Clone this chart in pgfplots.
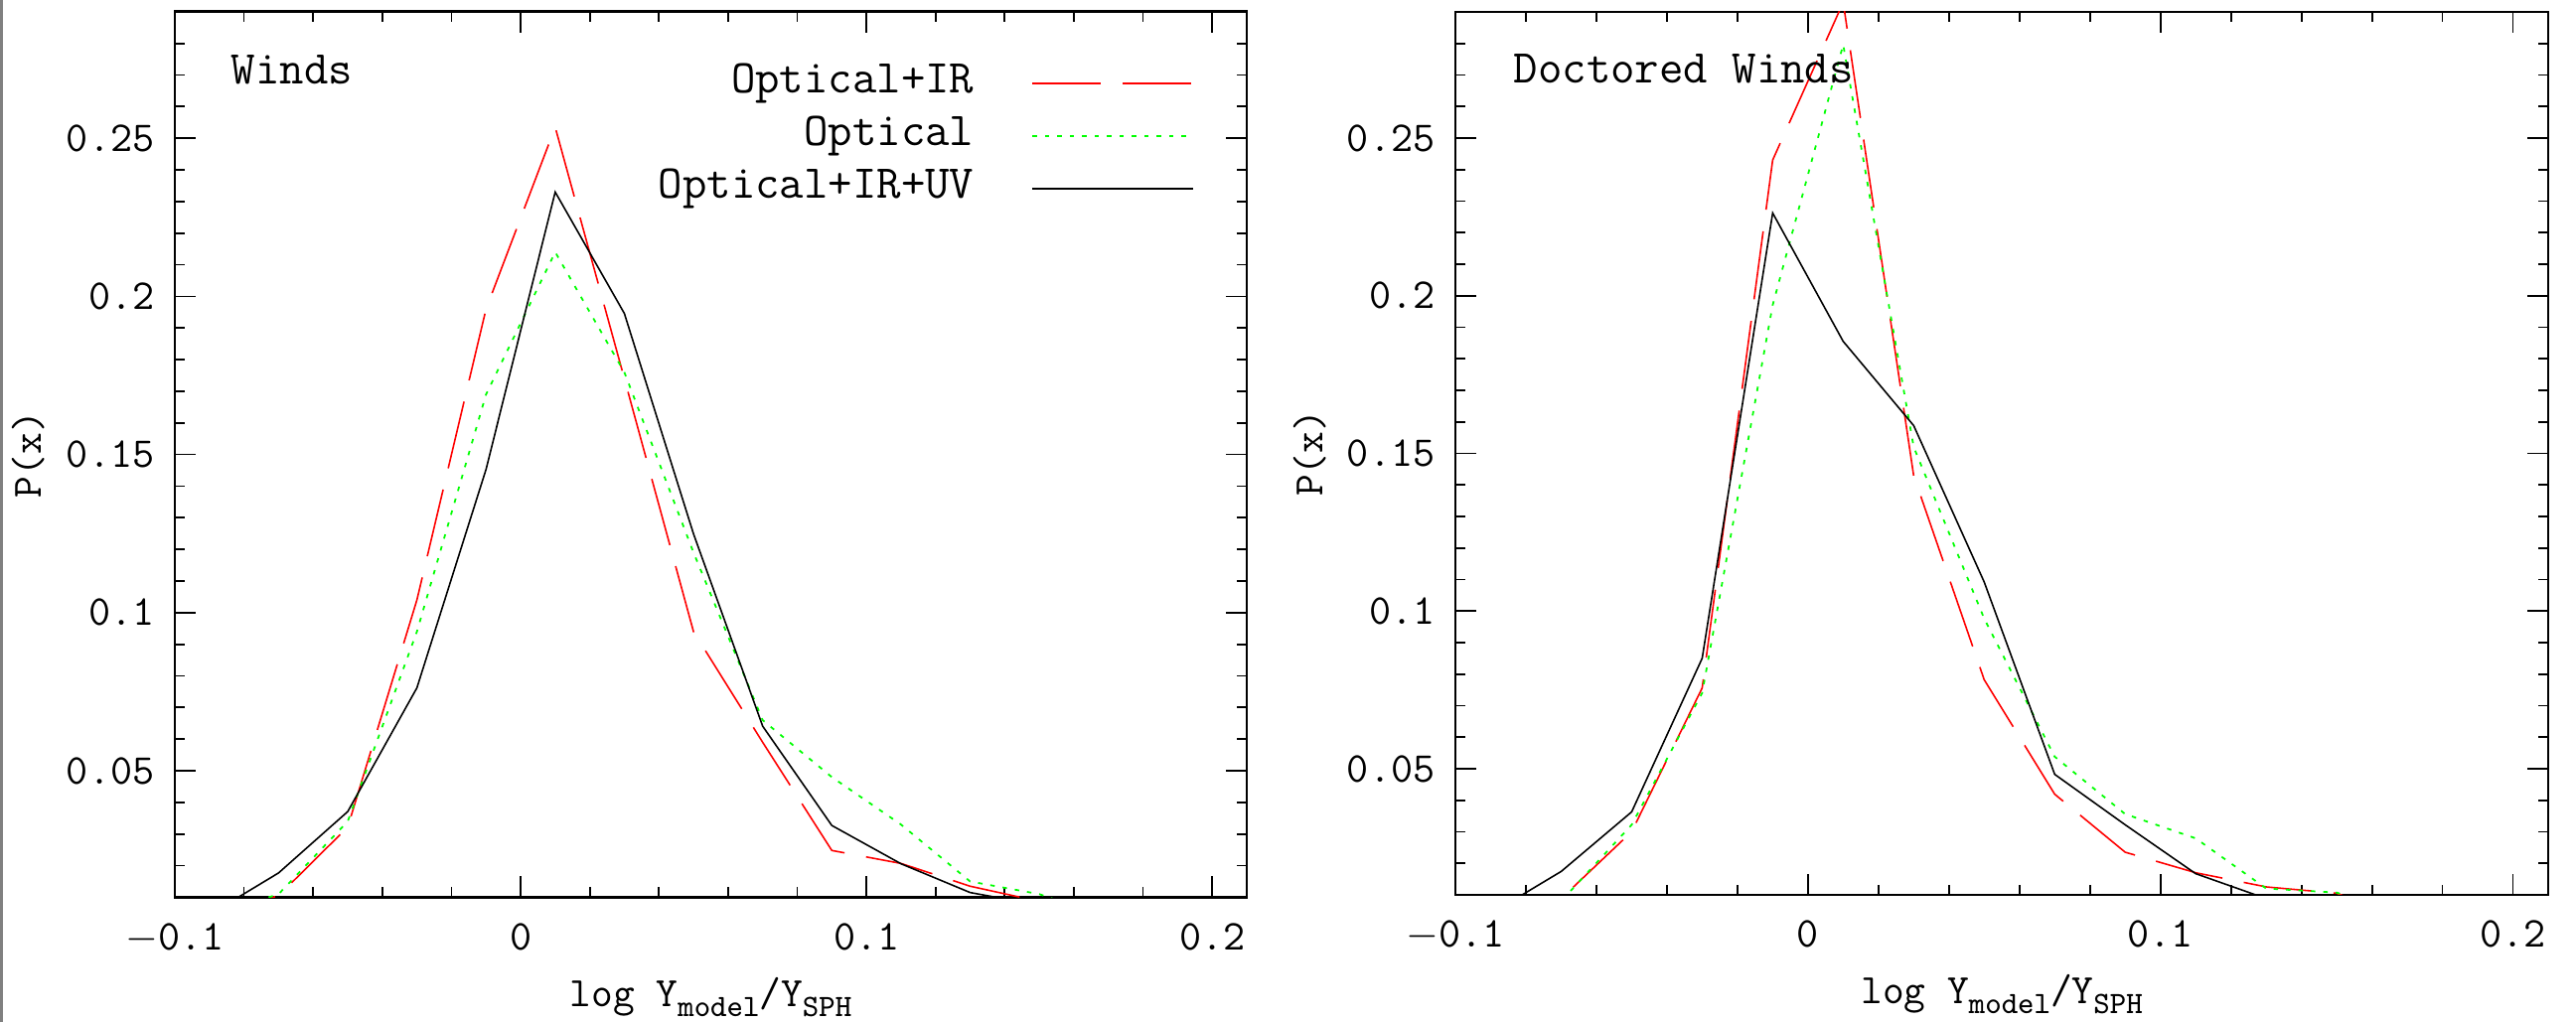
\documentclass[border=0pt]{standalone}
\usepackage{fontspec}
\usepackage{pgfplots}
\pgfplotsset{compat=1.18}
\definecolor{pgreen}{RGB}{0,255,0}
\newcommand{\sub}[1]{\raisebox{-1mm}{\fontsize{8.9}{9}\selectfont #1}}
\pgfplotsset{
 panel/.style={
  scale only axis, xmin=-0.1, xmax=0.21, ymin=0.01, ymax=0.29,
  anchor=south west,
  xtick={-0.1,0,0.1,0.2}, xticklabels={{$-$0.1},0,0.1,0.2},
  ytick={0.05,0.1,0.15,0.2,0.25}, yticklabels={0.05,0.1,0.15,0.2,0.25},
  minor xtick={-0.08,-0.06,-0.04,-0.02,0.02,0.04,0.06,0.08,0.12,0.14,0.16,0.18},
  minor ytick={0.02,0.03,0.04,0.06,0.07,0.08,0.09,0.11,0.12,0.13,0.14,0.16,0.17,0.18,0.19,0.21,0.22,0.23,0.24,0.26,0.27,0.28},
  tick align=inside, major tick length=2.1mm, minor tick length=1mm,
  every tick/.style={black, line width=0.5pt},
  axis line style={line width=0.8pt},
  ticklabel style={font=\fontsize{12.2}{12.2}\selectfont\ttfamily, inner sep=0pt},
  xticklabel style={anchor=base, yshift=-5.3mm},
  yticklabel style={anchor=east, xshift=-2mm},
  label style={font=\fontsize{12}{12}\selectfont\ttfamily, inner sep=0pt},
  xlabel style={at={(axis description cs:0.5,0)}, anchor=base, yshift=-10.96mm},
  xlabel={log Y\sub{model}/Y\sub{SPH}},
  ylabel={P(x)},
  clip=true,
 },
 redline/.style={color=red, line width=0.45pt, dash pattern=on 6.9mm off 2.2mm, no marks},
 greenline/.style={color=pgreen, line width=0.5pt, dash pattern=on 0.45mm off 0.8mm, no marks},
 blackline/.style={color=black, line width=0.45pt, no marks},
}
\begin{document}
\begin{tikzpicture}
\useasboundingbox (0,0) rectangle (259.3mm,102.9mm);
\draw[gray, line width=0.25mm] (0.15mm,0) -- (0.15mm,102.9mm);

\begin{axis}[panel, at={(17.6mm,12.56mm)}, width=107.9mm, height=89.16mm,
  ylabel style={at={(axis description cs:-0.1362,0.5)}, anchor=center},
  legend style={draw=none, fill=none, at={(rel axis cs:0.951,0.948)}, anchor=north east,
    inner sep=0pt, outer sep=0pt, row sep=0.1mm, column sep=5.8mm,
    font=\fontsize{13.5}{13.5}\selectfont\ttfamily,
    nodes={inner sep=0pt, text height=3.5mm, text depth=1.7mm}},
  legend cell align=right, legend plot pos=right,
  legend image code/.code={\draw[#1] (0mm,0mm) -- (16.2mm,0mm);},
]
\addplot[redline] coordinates {(-0.09,0.004) (-0.07,0.0105) (-0.05,0.0322) (-0.03,0.104) (-0.01,0.196) (0.01,0.2535) (0.03,0.174) (0.05,0.094) (0.07,0.059) (0.09,0.0248) (0.11,0.0207) (0.13,0.0135) (0.15,0.0087) (0.17,0.004)};
\addlegendentry{Optical+IR}
\addplot[greenline] coordinates {(-0.09,0.004) (-0.07,0.011) (-0.05,0.034) (-0.03,0.094) (-0.01,0.169) (0.01,0.214) (0.03,0.176) (0.05,0.119) (0.07,0.066) (0.09,0.048) (0.11,0.033) (0.13,0.015) (0.15,0.011) (0.17,0.0035)};
\addlegendentry{Optical}
\addplot[blackline] coordinates {(-0.09,0.0045) (-0.07,0.0177) (-0.05,0.0371) (-0.03,0.0762) (-0.01,0.1453) (0.01,0.233) (0.03,0.1946) (0.05,0.1249) (0.07,0.0641) (0.09,0.0327) (0.11,0.0206) (0.13,0.0115) (0.15,0.0075)};
\addlegendentry{Optical+IR+UV}
\node[anchor=base west, inner sep=0pt, font=\fontsize{13.5}{13.5}\selectfont\ttfamily] at (rel axis cs:0.052,0.919) {Winds};
\end{axis}

\begin{axis}[panel, at={(146.5mm,12.81mm)}, width=110.0mm, height=88.9mm,
  ylabel style={at={(axis description cs:-0.1327,0.5)}, anchor=center},
]
\addplot[redline] coordinates {(-0.09,0.002) (-0.07,0.0088) (-0.05,0.030) (-0.03,0.0756) (-0.01,0.243) (0.01,0.293) (0.03,0.1429) (0.05,0.0782) (0.07,0.0419) (0.09,0.0235) (0.11,0.017) (0.13,0.0125) (0.15,0.0105) (0.17,0.002)};
\addplot[greenline] coordinates {(-0.09,0.002) (-0.07,0.008) (-0.05,0.0322) (-0.03,0.074) (-0.01,0.197) (0.01,0.2796) (0.03,0.152) (0.05,0.0976) (0.07,0.0538) (0.09,0.0356) (0.11,0.0279) (0.13,0.012) (0.15,0.0107) (0.17,0.003)};
\addplot[blackline] coordinates {(-0.09,0.004) (-0.07,0.0174) (-0.05,0.0363) (-0.03,0.085) (-0.01,0.2262) (0.01,0.1855) (0.03,0.1588) (0.05,0.1092) (0.07,0.0482) (0.09,0.0322) (0.11,0.0167) (0.13,0.0088) (0.15,0.007)};
\node[anchor=base west, inner sep=0pt, font=\fontsize{13.5}{13.5}\selectfont\ttfamily] at (rel axis cs:0.0527,0.919) {Doctored Winds};
\end{axis}
\end{tikzpicture}
\end{document}
